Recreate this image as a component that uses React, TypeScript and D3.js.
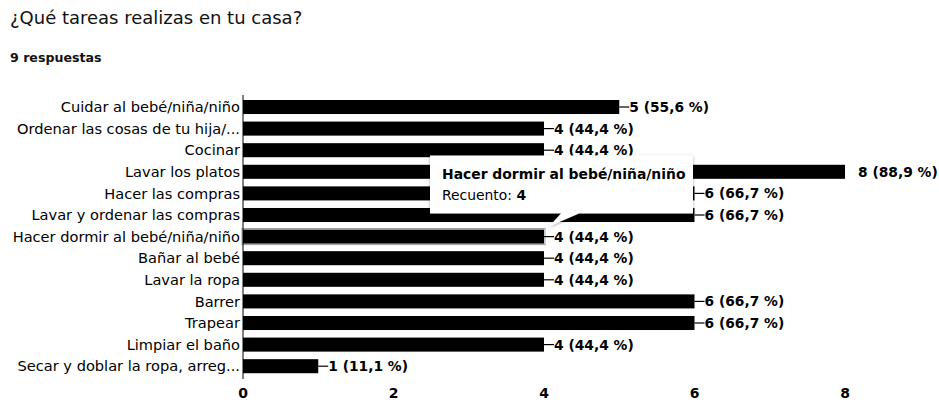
import React from "react";
import * as d3 from "d3";

const title = "¿Qué tareas realizas en tu casa?";
const subtitle = "9 respuestas";
const categories = [
  "Cuidar al bebé/niña/niño",
  "Ordenar las cosas de tu hija/...",
  "Cocinar",
  "Lavar los platos",
  "Hacer las compras",
  "Lavar y ordenar las compras",
  "Hacer dormir al bebé/niña/niño",
  "Bañar al bebé",
  "Lavar la ropa",
  "Barrer",
  "Trapear",
  "Limpiar el baño",
  "Secar y doblar la ropa, arreg...",
];
const values = [5, 4, 4, 8, 6, 6, 4, 4, 4, 6, 6, 4, 1];
const percents = ["55,6", "44,4", "44,4", "88,9", "66,7", "66,7", "44,4", "44,4", "44,4", "66,7", "66,7", "44,4", "11,1"];
const ticks = [0, 2, 4, 6, 8];
const hoveredIndex = 6;
const tooltipLabel = "Recuento";

const W = 939;
const H = 406;
const FONT = "'DejaVu Sans', sans-serif";

export default function App() {
  const x = d3.scaleLinear().domain([0, 8]).range([243, 845]);
  const y = d3
    .scaleBand<string>()
    .domain(categories)
    .range([96.2, 377])
    .paddingInner(0.35)
    .paddingOuter(0.175);
  const bw = y.bandwidth();
  const maxV = d3.max(values) as number;

  const hc = categories[hoveredIndex];
  const hx = x(values[hoveredIndex]);
  const hy = y(hc) as number;
  const tipX = hx + 5;
  const tipY = hy - 3;
  const boxB = tipY - 13;
  const boxT = boxB - 58;
  const boxL = 430;
  const boxR = 693;

  return (
    <svg width={W} height={H} style={{ position: "absolute", left: 0, top: 0 }} fontFamily={FONT}>
      <defs>
        <filter id="sh" x="-10%" y="-20%" width="120%" height="150%">
          <feDropShadow dx="0" dy="1" stdDeviation="1.5" floodColor="#000" floodOpacity="0.35" />
        </filter>
      </defs>
      <rect width={W} height={H} fill="#fff" />
      <text x={10} y={24} fontSize={18} fill="#111">{title}</text>
      <text x={10} y={62} fontSize={12.6} fontWeight={700} fill="#111">{subtitle}</text>

      {categories.map((c, i) => (
        <text key={"l" + i} x={240} y={(y(c) as number) + bw / 2} dy="0.36em" textAnchor="end" fontSize={14.6} fill="#000">
          {c}
        </text>
      ))}

      {categories.map((c, i) => {
        const yy = y(c) as number;
        const xe = x(values[i]);
        return (
          <g key={"b" + i}>
            <rect x={x(0)} y={yy} width={xe - x(0)} height={bw} fill="#000" />
            {i === hoveredIndex && (
              <rect x={x(0) - 1} y={yy - 1} width={xe - x(0) + 2} height={bw + 2} fill="none" stroke="#999" strokeWidth={1} />
            )}
            {values[i] !== maxV && (
              <line x1={xe} x2={xe + 10} y1={yy + bw / 2} y2={yy + bw / 2} stroke="#000" strokeWidth={1.2} />
            )}
            <text
              x={values[i] !== maxV ? xe + 10 : xe + 13}
              y={yy + bw / 2}
              dy="0.36em"
              fontSize={13.8}
              fontWeight={700}
              fill="#000"
            >
              {`${values[i]} (${percents[i]} %)`}
            </text>
          </g>
        );
      })}

      <line x1={x(0)} x2={x(0)} y1={95} y2={379} stroke="#000" strokeWidth={1} />

      {ticks.map((t) => (
        <text key={"t" + t} x={x(t)} y={398} textAnchor="middle" fontSize={14} fontWeight={700} fill="#000">
          {t}
        </text>
      ))}

      <g filter="url(#sh)">
        <path
          d={`M${boxL},${boxT} H${boxR} V${boxB} H${tipX + 30} L${tipX},${tipY} L${tipX + 12},${boxB} H${boxL} Z`}
          fill="#fff"
        />
      </g>
      <text x={boxL + 12} y={boxT + 23} fontSize={13.9} fontWeight={700} fill="#000">{hc}</text>
      <text x={boxL + 12} y={boxT + 44} fontSize={13.9} fill="#000">
        {tooltipLabel}: <tspan fontWeight={700}>{values[hoveredIndex]}</tspan>
      </text>
    </svg>
  );
}
